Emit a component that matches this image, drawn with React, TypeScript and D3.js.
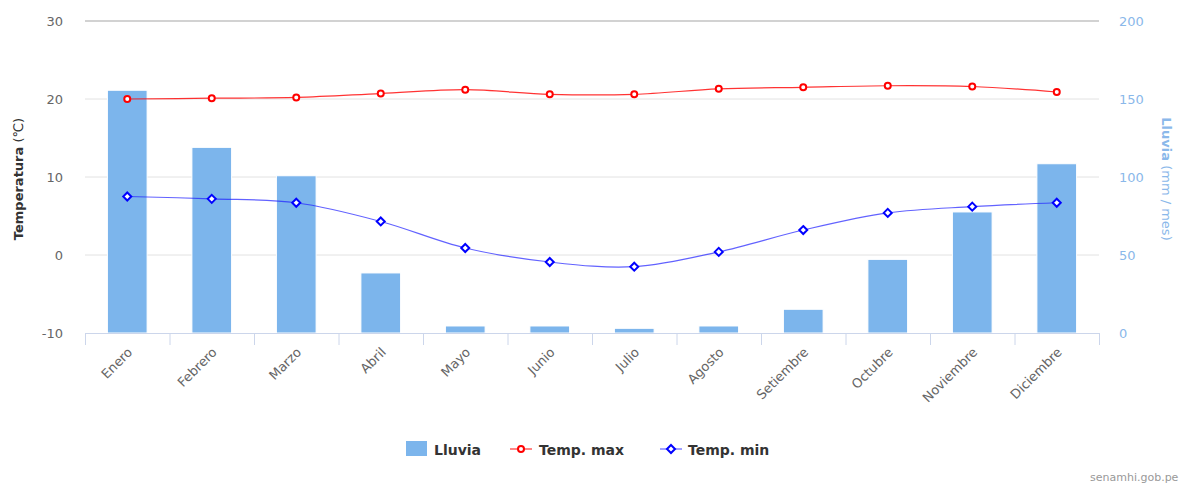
import * as d3 from "d3";

const months = ["Enero", "Febrero", "Marzo", "Abril", "Mayo", "Junio", "Julio", "Agosto", "Setiembre", "Octubre", "Noviembre", "Diciembre"];
const lluvia = [155.6, 119, 100.8, 38.5, 4.5, 4.5, 3, 4.5, 15.2, 47.2, 77.6, 108.5];
const tempMax = [20.0, 20.1, 20.2, 20.7, 21.2, 20.6, 20.6, 21.3, 21.5, 21.7, 21.6, 20.9];
const tempMin = [7.5, 7.2, 6.7, 4.3, 0.9, -0.9, -1.5, 0.4, 3.2, 5.4, 6.2, 6.7];
const tempTicks = [-10, 0, 10, 20, 30];
const rainTicks = [0, 50, 100, 150, 200];

const W = 1184;
const H = 484;
const left = 85;
const right = 1099;
const top = 21;
const bottom = 333;
const font = "'DejaVu Sans', Verdana, sans-serif";

export default function App() {
  const x = d3.scaleBand<string>().domain(months).range([left, right]).paddingInner(0).paddingOuter(0);
  const yT = d3.scaleLinear().domain([-10, 30]).range([bottom, top]);
  const yR = d3.scaleLinear().domain([0, 200]).range([bottom, top]);
  const bw = x.bandwidth() * 0.47;
  const cx = (m: string) => (x(m) ?? 0) + x.bandwidth() / 2;

  const line = d3.line<number>()
    .x((_, i) => cx(months[i]))
    .y((d) => yT(d))
    .curve(d3.curveCatmullRom.alpha(0.5));

  const boundaries = d3.range(months.length + 1).map((i) => left + i * x.bandwidth());
  const diamond = (px: number, py: number, s: number) => `M${px},${py - s}L${px + s},${py}L${px},${py + s}L${px - s},${py}Z`;

  return (
    <svg width={W} height={H} style={{ position: "absolute", left: 0, top: 0, background: "#fff" }} fontFamily={font}>
      {/* grid */}
      {tempTicks.filter((t) => t > -10).map((t) => (
        <line key={t} x1={left} x2={right} y1={yT(t)} y2={yT(t)}
          stroke={t === 30 ? "#d2d2d2" : "#e2e2e2"} strokeWidth={t === 30 ? 2 : 1} />
      ))}

      {/* bars */}
      {months.map((m, i) => (
        <rect key={m} x={cx(m) - bw / 2} y={yR(lluvia[i])} width={bw} height={bottom - yR(lluvia[i])}
          fill="#7cb5ec" stroke="#ffffff" strokeWidth={1} />
      ))}

      {/* x axis */}
      <line x1={left} x2={right} y1={bottom + 0.5} y2={bottom + 0.5} stroke="#ccd6eb" />
      {boundaries.map((b, i) => (
        <line key={i} x1={b + 0.5} x2={b + 0.5} y1={bottom} y2={bottom + 12} stroke="#ccd6eb" />
      ))}
      {months.map((m) => (
        <text key={m} transform={`translate(${cx(m) + 6},${bottom + 20}) rotate(-45)`} textAnchor="end"
          fontSize={13} fill="#666666">{m}</text>
      ))}

      {/* left axis */}
      {tempTicks.map((t) => (
        <text key={t} x={63} y={yT(t) + 5} textAnchor="end" fontSize={13} fill="#666666">{t}</text>
      ))}
      <text transform={`translate(23,${(top + bottom) / 2 + 2}) rotate(-90)`} textAnchor="middle" fontSize={13} fill="#333333">
        <tspan fontWeight="bold">Temperatura</tspan> (℃)
      </text>

      {/* right axis */}
      {rainTicks.map((t) => (
        <text key={t} x={1119} y={yR(t) + 5} textAnchor="start" fontSize={13} fill="#8ab8ea">{t}</text>
      ))}
      <text transform={`translate(1162,${(top + bottom) / 2 + 2}) rotate(90)`} textAnchor="middle" fontSize={13} fill="#8ab8ea">
        <tspan fontWeight="bold">Lluvia</tspan> (mm / mes)
      </text>

      {/* temp max */}
      <path d={line(tempMax) ?? ""} fill="none" stroke="#ff0000" strokeWidth={1.2} strokeOpacity={0.8} />
      {tempMax.map((v, i) => (
        <circle key={i} cx={cx(months[i])} cy={yT(v)} r={3} fill="#ffffff" stroke="#ff0000" strokeWidth={2} />
      ))}

      {/* temp min */}
      <path d={line(tempMin) ?? ""} fill="none" stroke="#2020ff" strokeWidth={1.2} strokeOpacity={0.7} />
      {tempMin.map((v, i) => (
        <path key={i} d={diamond(cx(months[i]), yT(v), 4)} fill="#ffffff" stroke="#0000ff" strokeWidth={2} />
      ))}

      {/* legend */}
      <g fontSize={14} fontWeight="bold" fill="#333333">
        <rect x={406} y={441} width={21} height={15} fill="#7cb5ec" />
        <text x={434} y={455}>Lluvia</text>
        <line x1={510} x2={532} y1={449} y2={449} stroke="#ff0000" strokeWidth={1.2} strokeOpacity={0.8} />
        <circle cx={521} cy={449} r={3} fill="#ffffff" stroke="#ff0000" strokeWidth={2} />
        <text x={539} y={455}>Temp. max</text>
        <line x1={660} x2={682} y1={449} y2={449} stroke="#2020ff" strokeWidth={1.2} strokeOpacity={0.7} />
        <path d={diamond(671, 449, 4)} fill="#ffffff" stroke="#0000ff" strokeWidth={2} />
        <text x={688} y={455}>Temp. min</text>
      </g>

      {/* credit */}
      <text x={1090} y={481} fontSize={11} fill="#999999">senamhi.gob.pe</text>
    </svg>
  );
}
